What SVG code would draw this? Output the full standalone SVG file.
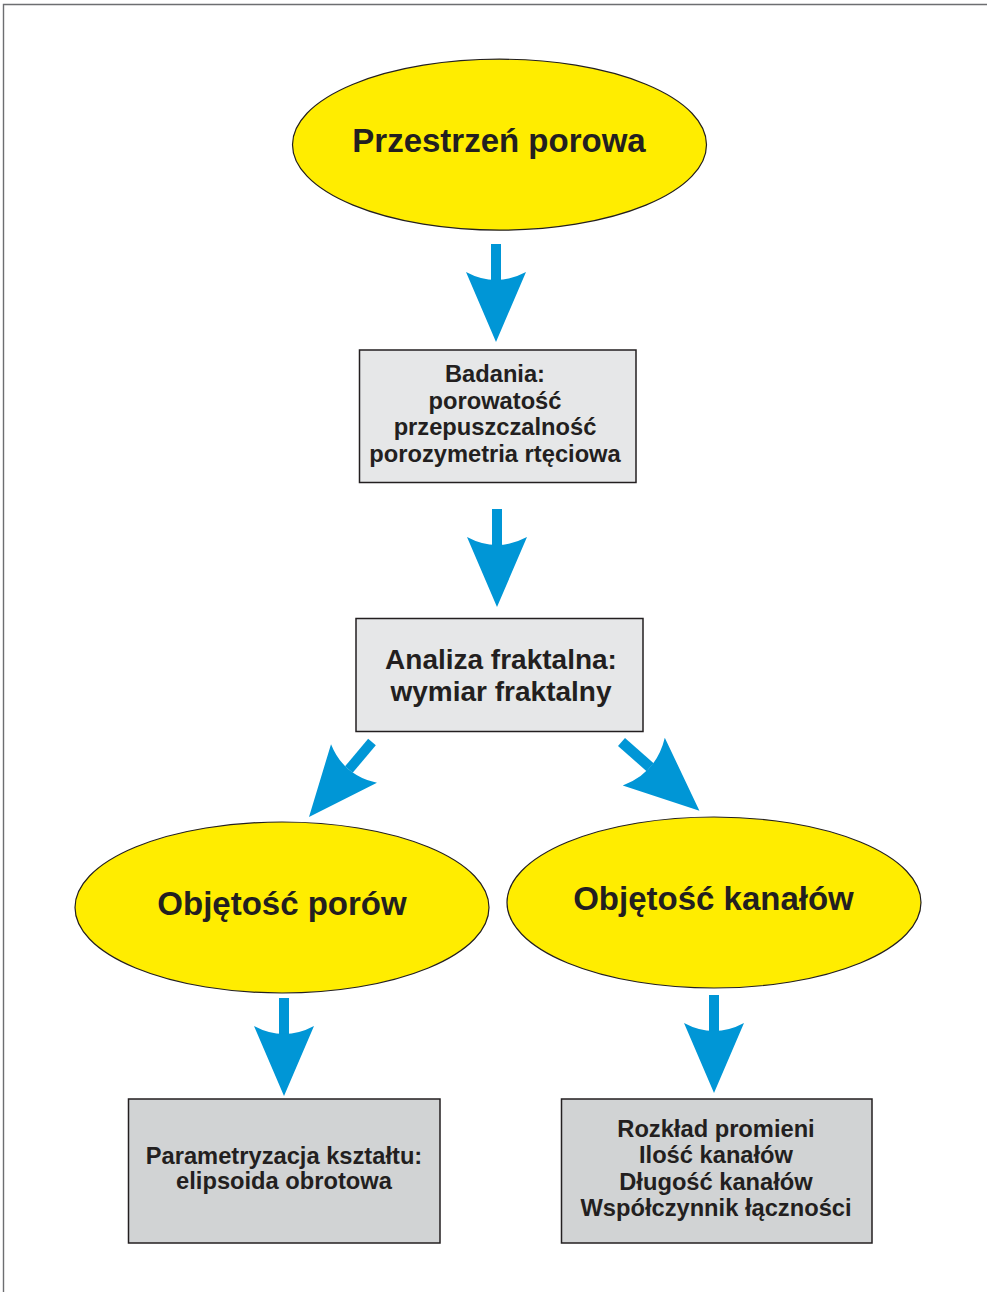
<svg xmlns="http://www.w3.org/2000/svg" xmlns:xlink="http://www.w3.org/1999/xlink" width="987" height="1292" viewBox="0 0 987 1292">
<style>
.ell{fill:#FFED00;stroke:#231F20;stroke-width:1.2}
.boxA{fill:#E6E7E8;stroke:#231F20;stroke-width:1.5}
.boxB{fill:#D1D3D4;stroke:#231F20;stroke-width:1.5}
text{font-family:"Liberation Sans",Arial,sans-serif;font-weight:bold;fill:#231F20;text-anchor:middle}
.big{font-size:33px}
.mid{font-size:28px}
.sm{font-size:23.7px}
.arr{fill:#0096D6}
</style>
<defs>
<g id="arrow">
<rect x="-5" y="0" width="10" height="36" class="arr"/>
<path d="M-30,28 Q0,44 30,28 L0,98 Z" class="arr"/>
</g>
</defs>
<path d="M3.5,1292 V4.5 H987" fill="none" stroke="#6D6E71" stroke-width="1.4"/>

<g id="connectors">
<use xlink:href="#arrow" transform="translate(496,244)"/>
<use xlink:href="#arrow" transform="translate(497,509)"/>
<use xlink:href="#arrow" transform="translate(372,742) rotate(40)"/>
<use xlink:href="#arrow" transform="translate(621.5,742) rotate(-48.6) scale(1.06)"/>
<use xlink:href="#arrow" transform="translate(284,998)"/>
<use xlink:href="#arrow" transform="translate(714,995)"/>
</g>

<g id="node-przestrzen">
<ellipse cx="499.5" cy="144.7" rx="207" ry="85.5" class="ell"/>
<text x="499" y="152" class="big">Przestrzeń porowa</text>
</g>

<g id="node-badania">
<rect x="359.5" y="350" width="276.5" height="132.5" class="boxA"/>
<text x="495" y="382" class="sm">Badania:</text>
<text x="495" y="408.5" class="sm">porowatość</text>
<text x="495" y="435" class="sm">przepuszczalność</text>
<text x="495" y="461.5" class="sm">porozymetria rtęciowa</text>
</g>

<g id="node-analiza">
<rect x="356" y="618.5" width="287" height="113" class="boxA"/>
<text x="501" y="668.5" class="mid">Analiza fraktalna:</text>
<text x="501" y="700.5" class="mid">wymiar fraktalny</text>
</g>

<g id="node-objetosc-porow">
<ellipse cx="282" cy="907.5" rx="207" ry="85.5" class="ell"/>
<text x="282" y="915" class="big">Objętość porów</text>
</g>

<g id="node-objetosc-kanalow">
<ellipse cx="714" cy="902.5" rx="207" ry="85.5" class="ell"/>
<text x="713.5" y="910" class="big">Objętość kanałów</text>
</g>

<g id="node-parametryzacja">
<rect x="128.5" y="1099" width="311.5" height="144" class="boxB"/>
<text x="284" y="1164" class="sm">Parametryzacja kształtu:</text>
<text x="284" y="1189" class="sm">elipsoida obrotowa</text>
</g>

<g id="node-rozklad">
<rect x="561.5" y="1099" width="310.5" height="144" class="boxB"/>
<text x="716" y="1137" class="sm">Rozkład promieni</text>
<text x="716" y="1163" class="sm">Ilość kanałów</text>
<text x="716" y="1189.5" class="sm">Długość kanałów</text>
<text x="716" y="1215.5" class="sm">Współczynnik łączności</text>
</g>
</svg>
